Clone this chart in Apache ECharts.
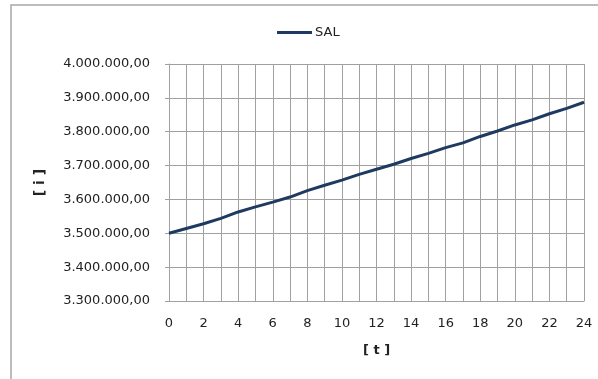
<!DOCTYPE html>
<html>
<head>
<meta charset="utf-8">
<script src="https://cdn.jsdelivr.net/npm/echarts@6/dist/echarts.min.js"></script>
<style>
  html, body { margin: 0; padding: 0; background: #fff; }
  #chart { width: 598px; height: 379px; }
</style>
</head>
<body>
<div id="chart"></div>
<script>
// Hours 0..24 on the horizontal axis
const hours = [0,1,2,3,4,5,6,7,8,9,10,11,12,13,14,15,16,17,18,19,20,21,22,23,24];
// SAL series values
const salValues = [
  3500000, 3514000, 3528000, 3544000, 3563000, 3578000, 3592000, 3607000,
  3626000, 3642000, 3657000, 3674000, 3689000, 3704000, 3721000, 3736000,
  3753000, 3767000, 3786000, 3802000, 3820000, 3835000, 3853000, 3869000,
  3887000
];
const seriesName = 'SAL';
const yTicks = [3300000, 3400000, 3500000, 3600000, 3700000, 3800000, 3900000, 4000000];
const xLabelStep = 2;

function formatNumber(v) {
  const s = Math.round(v).toString().replace(/\B(?=(\d{3})+(?!\d))/g, '.');
  return s + ',00';
}

const chart = echarts.init(document.getElementById('chart'), null, { renderer: 'canvas' });
const font = 'DejaVu Sans';
const gridColor = '#a0a0a0';

chart.setOption({
  animation: false,
  textStyle: { fontFamily: font },
  graphic: [{
    type: 'rect',
    shape: { x: 11, y: 5, width: 700, height: 500 },
    style: { fill: 'none', stroke: '#a8a8a8', lineWidth: 1.5 },
    silent: true
  }],
  legend: {
    left: 272,
    top: 21,
    itemWidth: 35,
    itemHeight: 3,
    itemGap: 10,
    icon: 'rect',
    textStyle: { fontFamily: font, fontSize: 13, color: '#222', padding: [0, 0, 0, -2] },
    data: [seriesName]
  },
  grid: { left: 169, right: 14, top: 64, bottom: 78, containLabel: false },
  xAxis: {
    type: 'value',
    min: hours[0],
    max: hours[hours.length - 1],
    interval: 1,
    name: '[ t ]',
    nameLocation: 'middle',
    nameGap: 43,
    nameTextStyle: { fontFamily: font, fontSize: 13, fontWeight: 'bold', color: '#222' },
    axisLine: { show: true, lineStyle: { color: gridColor, width: 1 } },
    axisTick: { show: false },
    axisLabel: {
      margin: 16,
      fontFamily: font, fontSize: 13, color: '#222',
      formatter: v => (v % xLabelStep === 0 ? String(v) : '')
    },
    splitLine: { show: true, lineStyle: { color: gridColor, width: 1 } }
  },
  yAxis: {
    type: 'value',
    min: yTicks[0],
    max: yTicks[yTicks.length - 1],
    interval: yTicks[1] - yTicks[0],
    name: '[ i ]',
    nameLocation: 'middle',
    nameGap: 122,
    nameRotate: 90,
    nameTextStyle: { fontFamily: font, fontSize: 14, fontWeight: 'bold', color: '#222' },
    axisLine: { show: true, lineStyle: { color: gridColor, width: 1 } },
    axisTick: { show: true, inside: false, length: 4, lineStyle: { color: gridColor } },
    axisLabel: {
      margin: 19,
      fontFamily: font, fontSize: 13, color: '#222',
      formatter: v => formatNumber(v)
    },
    splitLine: { show: true, lineStyle: { color: gridColor, width: 1 } }
  },
  series: [{
    name: seriesName,
    type: 'line',
    data: hours.map((h, i) => [h, salValues[i]]),
    showSymbol: false,
    symbol: 'none',
    lineStyle: { color: '#1f3a60', width: 3 },
    itemStyle: { color: '#1f3a60' }
  }]
});
</script>
</body>
</html>
